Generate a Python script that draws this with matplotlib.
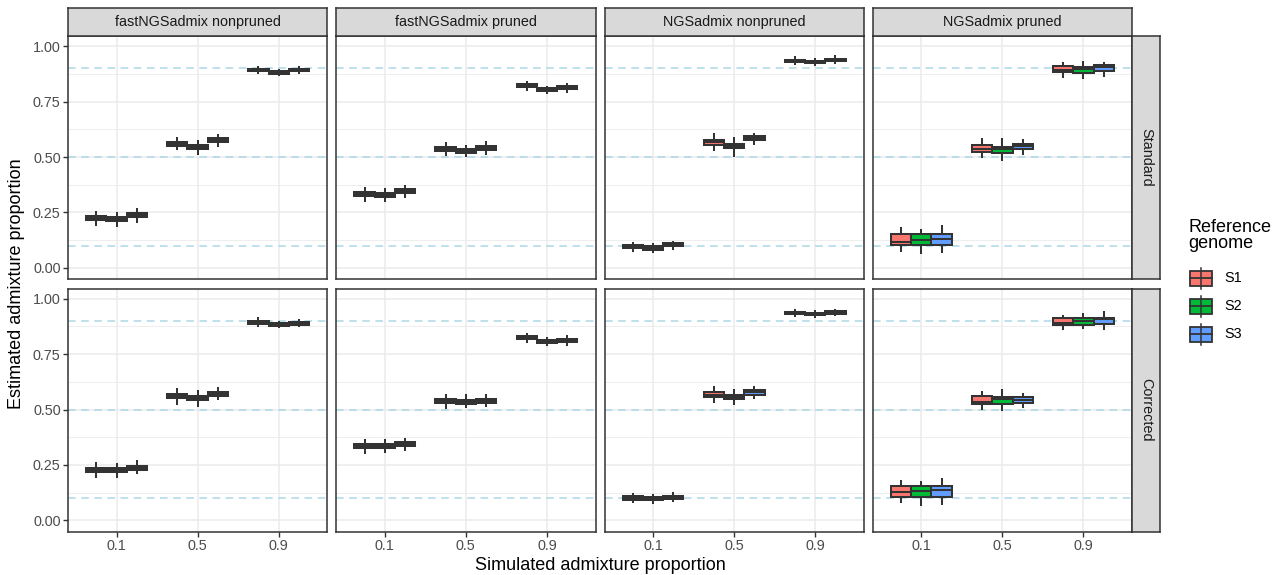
import numpy as np
import matplotlib.pyplot as plt
from matplotlib.patches import Rectangle
from matplotlib.lines import Line2D

plt.rcParams['font.family'] = ['Liberation Sans', 'DejaVu Sans']

# facets, groups and colours
methods = ['fastNGSadmix nonpruned', 'fastNGSadmix pruned', 'NGSadmix nonpruned', 'NGSadmix pruned']
corrections = ['Standard', 'Corrected']
sim_props = ['0.1', '0.5', '0.9']
true_props = [0.1, 0.5, 0.9]
genomes = ['S1', 'S2', 'S3']
genome_colors = ['#F8766D', '#00BA38', '#619CFF']

# box stats
# rows: 0.1 (S1,S2,S3), 0.5 (S1,S2,S3), 0.9 (S1,S2,S3)
# cols: lower whisker, q1, median, q3, upper whisker
fast_nonpruned_std = [
    [0.195, 0.216, 0.224, 0.234, 0.251], [0.190, 0.212, 0.220, 0.230, 0.247], [0.209, 0.230, 0.239, 0.249, 0.266],
    [0.536, 0.552, 0.561, 0.570, 0.587], [0.512, 0.537, 0.546, 0.556, 0.571], [0.551, 0.566, 0.575, 0.585, 0.600],
    [0.877, 0.886, 0.892, 0.898, 0.906], [0.868, 0.875, 0.881, 0.887, 0.894], [0.878, 0.886, 0.892, 0.898, 0.906],
]
fast_pruned_std = [
    [0.302, 0.323, 0.332, 0.341, 0.362], [0.303, 0.322, 0.331, 0.340, 0.358], [0.320, 0.336, 0.345, 0.354, 0.368],
    [0.508, 0.526, 0.535, 0.544, 0.562], [0.506, 0.520, 0.529, 0.538, 0.552], [0.516, 0.534, 0.543, 0.552, 0.570],
    [0.803, 0.814, 0.821, 0.828, 0.838], [0.790, 0.797, 0.803, 0.810, 0.817], [0.795, 0.805, 0.812, 0.819, 0.828],
]
ngs_nonpruned_std = [
    [0.076, 0.089, 0.096, 0.103, 0.114], [0.070, 0.083, 0.090, 0.097, 0.107], [0.087, 0.097, 0.104, 0.111, 0.119],
    [0.530, 0.556, 0.567, 0.578, 0.605], [0.507, 0.539, 0.549, 0.560, 0.588], [0.561, 0.575, 0.584, 0.593, 0.606],
    [0.921, 0.930, 0.935, 0.940, 0.950], [0.916, 0.924, 0.929, 0.934, 0.944], [0.926, 0.934, 0.939, 0.944, 0.954],
]
ngs_pruned_std = [
    [0.078, 0.104, 0.118, 0.152, 0.179], [0.069, 0.104, 0.126, 0.152, 0.171], [0.074, 0.105, 0.132, 0.153, 0.189],
    [0.502, 0.523, 0.535, 0.555, 0.580], [0.487, 0.517, 0.538, 0.547, 0.580], [0.516, 0.537, 0.549, 0.561, 0.576],
    [0.863, 0.883, 0.892, 0.912, 0.923], [0.856, 0.881, 0.899, 0.908, 0.929], [0.867, 0.888, 0.907, 0.915, 0.923],
]
fast_nonpruned_cor = [
    [0.197, 0.218, 0.227, 0.236, 0.257], [0.194, 0.217, 0.226, 0.235, 0.254], [0.212, 0.229, 0.238, 0.247, 0.266],
    [0.527, 0.552, 0.561, 0.570, 0.593], [0.517, 0.543, 0.552, 0.561, 0.584], [0.546, 0.559, 0.568, 0.577, 0.595],
    [0.879, 0.887, 0.893, 0.899, 0.911], [0.873, 0.879, 0.884, 0.890, 0.897], [0.877, 0.883, 0.889, 0.895, 0.902],
]
fast_pruned_cor = [
    [0.303, 0.325, 0.334, 0.343, 0.363], [0.307, 0.328, 0.337, 0.346, 0.363], [0.318, 0.335, 0.344, 0.353, 0.368],
    [0.506, 0.528, 0.537, 0.546, 0.566], [0.512, 0.526, 0.535, 0.544, 0.566], [0.516, 0.530, 0.539, 0.548, 0.566],
    [0.806, 0.816, 0.823, 0.830, 0.840], [0.790, 0.799, 0.806, 0.813, 0.822], [0.792, 0.805, 0.812, 0.819, 0.830],
]
ngs_nonpruned_cor = [
    [0.081, 0.094, 0.101, 0.108, 0.121], [0.078, 0.090, 0.097, 0.104, 0.116], [0.087, 0.098, 0.105, 0.112, 0.122],
    [0.532, 0.557, 0.567, 0.577, 0.601], [0.523, 0.546, 0.556, 0.566, 0.590], [0.554, 0.567, 0.577, 0.587, 0.601],
    [0.922, 0.930, 0.935, 0.940, 0.948], [0.917, 0.926, 0.931, 0.936, 0.945], [0.926, 0.933, 0.938, 0.943, 0.951],
]
ngs_pruned_cor = [
    [0.081, 0.107, 0.128, 0.155, 0.180], [0.068, 0.107, 0.133, 0.155, 0.174], [0.074, 0.107, 0.138, 0.155, 0.189],
    [0.503, 0.525, 0.535, 0.559, 0.581], [0.500, 0.525, 0.548, 0.556, 0.587], [0.510, 0.530, 0.543, 0.556, 0.571],
    [0.865, 0.883, 0.890, 0.913, 0.924], [0.868, 0.883, 0.898, 0.911, 0.930], [0.865, 0.886, 0.908, 0.915, 0.940],
]

panel_stats = [
    [fast_nonpruned_std, fast_pruned_std, ngs_nonpruned_std, ngs_pruned_std],
    [fast_nonpruned_cor, fast_pruned_cor, ngs_nonpruned_cor, ngs_pruned_cor],
]

W, H = 1282, 575
fig = plt.figure(figsize=(W / 100, H / 100), dpi=100)


def fx(px):
    return px / W


def fy(py):
    return 1 - py / H


def px_rect(left, top, width, height):
    return [fx(left), fy(top + height), width / W, height / H]


dark = '#333333'
grid_col = '#EBEBEB'
tick_col = '#4D4D4D'
fs_small = 10.4
fs_big = 13
box_lw = 1.45

col_left = [68, 336.25, 604.5, 872.75]
panel_w = 259.25
row_top = [36, 288.5]
panel_h = 243

for r, corr in enumerate(corrections):
    for c, meth in enumerate(methods):
        ax = fig.add_axes(px_rect(col_left[c], row_top[r], panel_w, panel_h))
        ax.set_xlim(0.4, 3.6)
        ax.set_ylim(-0.05, 1.046)

        # grid
        for y in [0.125, 0.375, 0.625, 0.875]:
            ax.axhline(y, color=grid_col, lw=0.6, zorder=0)
        for y in [0, 0.25, 0.5, 0.75, 1.0]:
            ax.axhline(y, color=grid_col, lw=1.1, zorder=0)
        for x in [1, 2, 3]:
            ax.axvline(x, color=grid_col, lw=1.1, zorder=0)

        # true proportions
        for tp in true_props:
            ax.axhline(tp, color='lightblue', lw=1.1, ls=(0, (5, 3.6)), zorder=1)

        rows = panel_stats[r][c]
        stats, positions, colors = [], [], []
        for i in range(len(sim_props)):
            for j in range(len(genomes)):
                lo, q1, med, q3, hi = rows[i * 3 + j]
                stats.append({'whislo': lo, 'q1': q1, 'med': med, 'q3': q3, 'whishi': hi, 'fliers': []})
                positions.append(i + 1 + (j - 1) * 0.25)
                colors.append(genome_colors[j])
        bp = ax.bxp(stats, positions=positions, widths=0.25, patch_artist=True,
                    showcaps=False, showfliers=False, manage_ticks=False,
                    boxprops=dict(edgecolor=dark, linewidth=box_lw),
                    medianprops=dict(color=dark, linewidth=box_lw),
                    whiskerprops=dict(color=dark, linewidth=box_lw))
        for patch, col in zip(bp['boxes'], colors):
            patch.set_facecolor(col)
            patch.set_zorder(3)
        for ln in bp['medians'] + bp['whiskers']:
            ln.set_zorder(3)

        for sp in ax.spines.values():
            sp.set_color(dark)
            sp.set_linewidth(1.1)

        ax.set_xticks([1, 2, 3])
        ax.set_yticks([0, 0.25, 0.5, 0.75, 1.0])
        ax.tick_params(length=3.3, width=1.0, color=dark, pad=2,
                       labelsize=fs_small, labelcolor=tick_col)
        if r == 1:
            ax.set_xticklabels(sim_props)
        else:
            ax.tick_params(axis='x', length=0, labelbottom=False)
        if c == 0:
            ax.set_yticklabels(['0.00', '0.25', '0.50', '0.75', '1.00'])
        else:
            ax.tick_params(axis='y', length=0, labelleft=False)

        # top strips
        if r == 0:
            sax = fig.add_axes(px_rect(col_left[c], 8.3, panel_w, row_top[0] - 8.3))
            sax.set_facecolor('#D9D9D9')
            sax.set_xticks([])
            sax.set_yticks([])
            for sp in sax.spines.values():
                sp.set_color(dark)
                sp.set_linewidth(1.1)
            sax.text(0.5, 0.5, meth, ha='center', va='center', fontsize=fs_small,
                     color='#1A1A1A', transform=sax.transAxes)

    # right strip
    rax = fig.add_axes(px_rect(col_left[-1] + panel_w, row_top[r], 28, panel_h))
    rax.set_facecolor('#D9D9D9')
    rax.set_xticks([])
    rax.set_yticks([])
    for sp in rax.spines.values():
        sp.set_color(dark)
        sp.set_linewidth(1.1)
    rax.text(0.5, 0.5, corr, ha='center', va='center', rotation=-90, fontsize=fs_small,
             color='#1A1A1A', transform=rax.transAxes)

# axis titles
fig.text(fx(600), fy(566), 'Simulated admixture proportion', ha='center', va='center', fontsize=fs_big)
fig.text(fx(17), fy(284), 'Estimated admixture proportion', ha='center', va='center',
         rotation=90, fontsize=fs_big)

# legend
fig.text(fx(1188), fy(219), 'Reference\ngenome', ha='left', va='top', fontsize=fs_big, linespacing=0.95)
key_y = [278.3, 306, 334]
for name, col, ky in zip(genomes, genome_colors, key_y):
    fig.add_artist(Line2D([fx(1201), fx(1201)], [fy(ky - 10.5), fy(ky + 10.5)],
                          color=dark, lw=1.1, transform=fig.transFigure))
    fig.add_artist(Rectangle((fx(1190), fy(ky + 7.5)), 22 / W, 15 / H, facecolor=col,
                             edgecolor=dark, lw=1.3, transform=fig.transFigure))
    fig.add_artist(Line2D([fx(1190), fx(1212)], [fy(ky), fy(ky)],
                          color=dark, lw=1.3, transform=fig.transFigure))
    fig.text(fx(1224), fy(ky), name, ha='left', va='center', fontsize=fs_small)

fig.savefig('out.png', dpi=100)
